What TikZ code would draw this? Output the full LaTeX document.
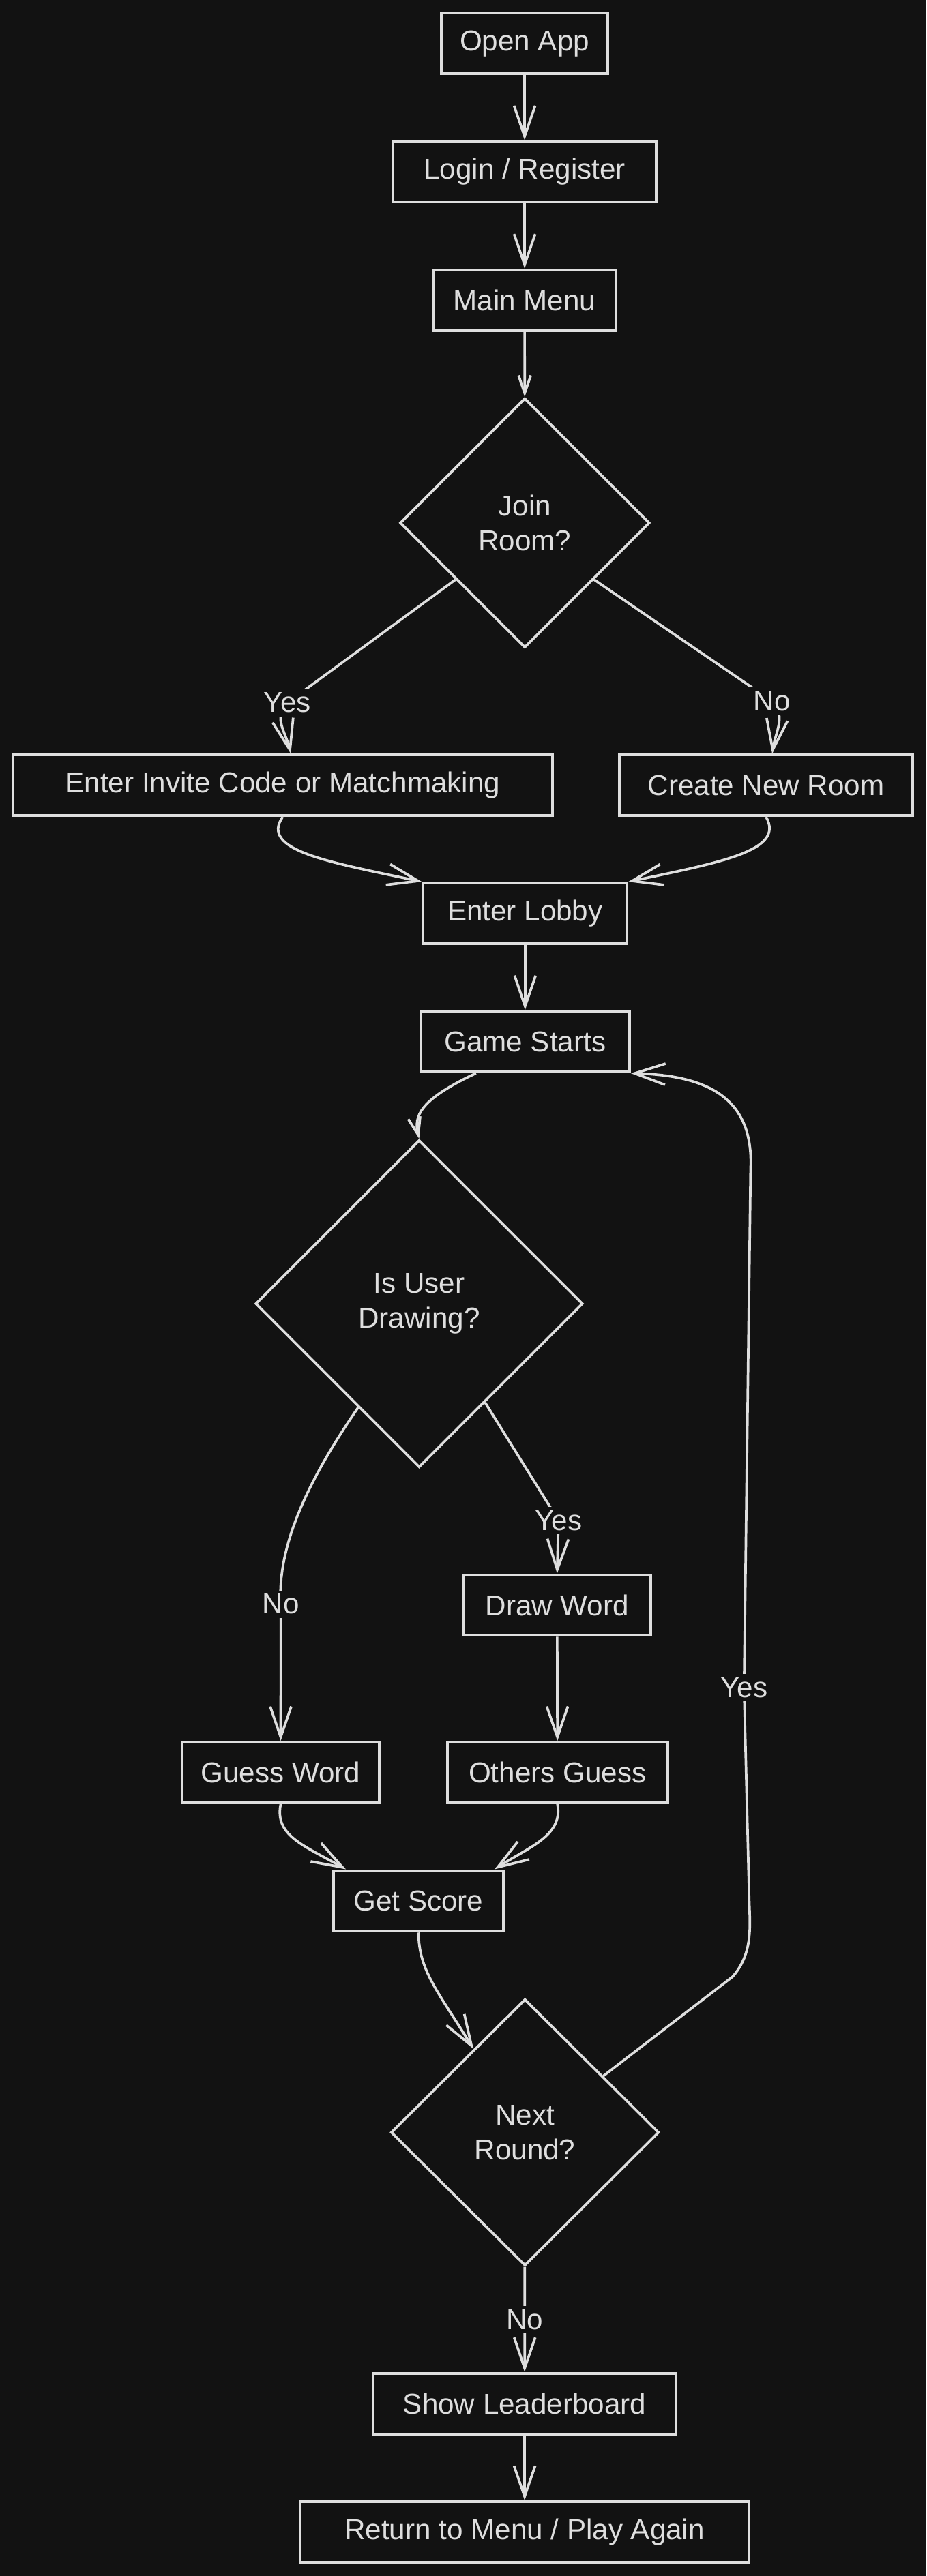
\documentclass[tikz,border=0pt]{standalone}
\usepackage{fontspec}
\setmainfont{Liberation Sans}
\usetikzlibrary{arrows.meta, positioning, shapes.geometric, calc}
\definecolor{bgc}{HTML}{121212}
\definecolor{fgc}{HTML}{DEDEDE}

\begin{document}
\begin{tikzpicture}[->, >={Straight Barb[length=4.5mm, width=3.1mm]}, x=0.024078cm, y=-0.024078cm,
    line width=1.05pt, color=fgc, font=\fontsize{12}{14.5}\selectfont, node distance=0.955cm]
    \tikzstyle{state} = [draw, text centered, align=center, minimum height=0.89cm]
    \tikzstyle{decision} = [draw, diamond, aspect=1, align=center, inner sep=0pt]
    \tikzstyle{lbl} = [fill=bgc, inner sep=1.5pt, text=fgc]
    \tikzstyle{smalltip} = [>={Straight Barb[length=2.6mm, width=1.8mm]}]
    \fill[bgc, -, use as bounding box] (0,0) rectangle (564,1569);

    \node [state, minimum width=2.44cm] at (319.4,26.5) (open) {Open App};
    \node [state, minimum width=3.86cm, below =of open] (login) {Login / Register};
    \node [state, minimum width=2.68cm, below =of login] (menu) {Main Menu};
    \node [decision, minimum width=3.66cm, minimum height=3.66cm] at (319.5,318.5) (join) {Join\\Room?};
    \node [state, minimum width=7.91cm] at (172.1,478.3) (invite) {Enter Invite Code or Matchmaking};
    \node [state, minimum width=4.30cm] at (466.4,478.3) (create) {Create New Room};
    \node [state, minimum width=2.99cm] at (319.7,556.3) (lobby) {Enter Lobby};
    \node [state, minimum width=3.06cm, below =of lobby] (game) {Game Starts};
    \node [decision, minimum width=4.80cm, minimum height=4.80cm] at (255.2,794) (isuser) {Is User\\Drawing?};
    \node [state, minimum width=2.74cm] at (339.2,977.6) (drawword) {Draw Word};
    \node [state, minimum width=2.89cm] at (170.9,1079.6) (guess) {Guess Word};
    \node [state, minimum width=3.23cm] at (339.4,1079.6) (others) {Others Guess};
    \node [state, minimum width=2.49cm] at (254.8,1157.8) (score) {Get Score};
    \node [decision, minimum width=3.93cm, minimum height=3.91cm] at (319.6,1298.8) (nextr) {Next\\Round?};
    \node [state, minimum width=4.43cm] at (319.4,1464) (board) {Show Leaderboard};
    \node [state, minimum width=6.58cm, below =of board] (ret) {Return to Menu / Play Again};

    \draw (open) -- (login);
    \draw (login) -- (menu);
    \draw[smalltip] (menu) -- (join);
    \draw ($(join.west)!0.45!(join.south)$) -- (175,428) node[lbl] {Yes} .. controls (166,437) and (174,446) .. ([xshift=0.12cm]invite.north);
    \draw ($(join.east)!0.45!(join.south)$) -- (470,427) node[lbl] {No} .. controls (479,436) and (472,446) .. ([xshift=0.09cm]create.north);
    \draw (invite.south) .. controls (158,518) and (200,525) .. (lobby.north west);
    \draw (create.south) .. controls (478,518) and (440,525) .. (lobby.north east);
    \draw (lobby) -- (game);
    \draw[smalltip] ([xshift=-0.72cm]game.south) .. controls (255,670) and (252,680) .. (isuser.north);
    \draw ($(isuser.west)!0.63!(isuser.south)$) .. controls (197,888) and (168,935) .. (171,977) node[lbl] {No} -- (guess.north);
    \draw ($(isuser.east)!0.6!(isuser.south)$) -- (340,926) node[lbl] {Yes} -- (drawword.north);
    \draw (drawword) -- (others);
    \draw (guess.south) .. controls (167,1118) and (185,1124) .. ([xshift=0.2cm]score.north west);
    \draw (others.south) .. controls (343,1118) and (322,1125) .. ([xshift=-0.15cm]score.north east);
    \draw (score.south) .. controls (255,1200) and (266,1212) .. ($(nextr.west)!0.62!(nextr.north)$);
    \draw ($(nextr.north)!0.58!(nextr.east)$) -- (446,1204) .. controls (460,1188) and (456,1170) .. (456,1150)
        -- (453,1028) node[lbl] {Yes} -- (457,712) .. controls (459,668) and (430,655) .. (game.south east);
    \draw (nextr) -- node[lbl] {No} (board);
    \draw (board) -- (ret);
\end{tikzpicture}
\end{document}
